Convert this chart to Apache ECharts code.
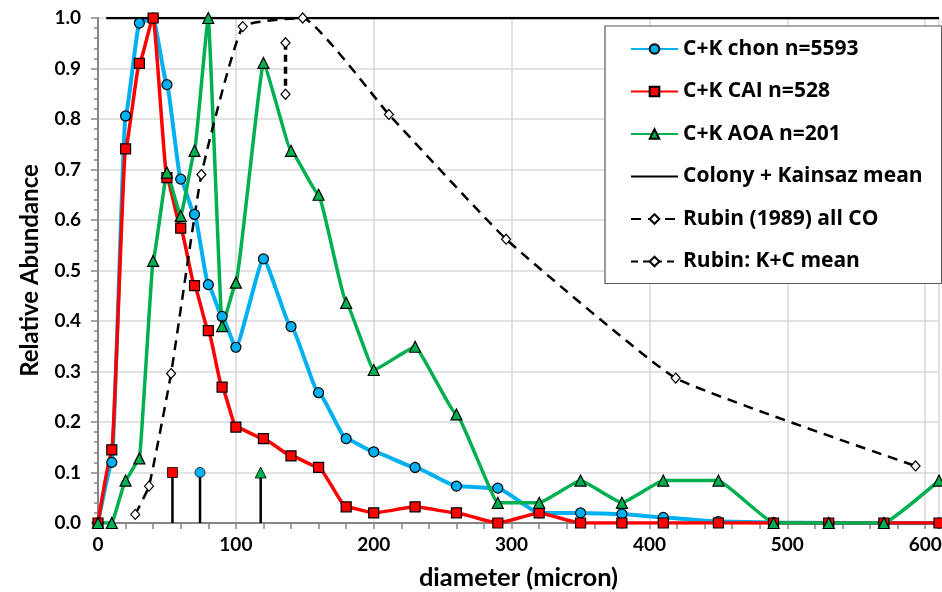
<!DOCTYPE html>
<html>
<head>
<meta charset="utf-8">
<script src="https://cdn.jsdelivr.net/npm/echarts@6/dist/echarts.min.js"></script>
<style>html,body{margin:0;padding:0;background:#fff;}#c{width:942px;height:592px;}</style>
</head>
<body>
<div id="c"></div>
<script>
// ---- data ----
var diam = [0,10,20,30,40,50,60,70,80,90,100,120,140,160,180,200,230,260,290,320,350,380,410,450,490,530,570,610];
var chon = [0,0.12,0.806,0.99,1.0,0.868,0.681,0.611,0.472,0.409,0.348,0.523,0.389,0.258,0.167,0.141,0.110,0.073,0.069,0.020,0.020,0.018,0.011,0.003,0.001,0,0,0];
var cai  = [0,0.145,0.741,0.910,1.0,0.684,0.584,0.470,0.381,0.269,0.190,0.167,0.133,0.110,0.032,0.020,0.032,0.020,0,0.020,0,0,0,0,0,0,0,0];
var aoa  = [0,0,0.084,0.128,0.519,0.694,0.608,0.737,1.0,0.390,0.476,0.911,0.737,0.650,0.436,0.303,0.349,0.215,0.040,0.040,0.084,0.040,0.084,0.084,0,0,0,0.084];
var rubinX = [27,37,53,75,105,148.5,211,296,419,593];
var rubinY = [0.017,0.073,0.296,0.690,0.983,1.0,0.809,0.562,0.287,0.113];
var rubinMeanX = [136,136];
var rubinMeanY = [0.951,0.849];
var meanX = [54,74,118];          // CAI, chon, AOA means (Colony + Kainsaz)
var meanTop = [0.1,0.1,0.1];
var topLineX = [6,610];
var topLineY = [1.0,1.0];
var names = ['C+K chon n=5593','C+K CAI n=528','C+K AOA n=201','Colony + Kainsaz mean','Rubin (1989) all CO','Rubin: K+C mean'];

function pairs(xs, ys){ return xs.map(function(x,i){ return [x, ys[i]]; }); }

var colonyData = [];
meanX.forEach(function(x,i){ colonyData.push([x,0]); colonyData.push([x,meanTop[i]]); colonyData.push([x,'-']); });
topLineX.forEach(function(x,i){ colonyData.push([x, topLineY[i]]); });

var FONT = 'Lato';
var LFONT = 'Open Sans';
var chart = echarts.init(document.getElementById('c'), null, {renderer:'canvas'});
chart.setOption({
  animation:false,
  backgroundColor:'#ffffff',
  grid:{left:98,right:3,top:18,bottom:69, outerBoundsMode:'none', containLabel:false},
  legend:{
    orient:'vertical', left:605, top:26,
    data:names,
    itemWidth:47, itemHeight:12, itemGap:16.5,
    padding:[10,19,9,25],
    backgroundColor:'#ffffff', borderColor:'#595959', borderWidth:1.2,
    textStyle:{fontFamily:LFONT, fontWeight:'bold', fontSize:21, color:'#000', lineHeight:26}
  },
  xAxis:{
    type:'value', min:0, max:610, interval:100,
    name:'diameter (micron)', nameLocation:'middle', nameGap:42,
    nameTextStyle:{fontFamily:FONT, fontWeight:'bold', fontSize:25.5, color:'#000'},
    axisLine:{show:true, lineStyle:{color:'#868686', width:2}},
    axisTick:{show:true, length:6, lineStyle:{color:'#868686', width:1.5}},
    minorTick:{show:true, splitNumber:5, length:6, lineStyle:{color:'#868686', width:1.5}},
    axisLabel:{fontFamily:FONT, fontWeight:'bold', fontSize:19, color:'#000', margin:12, showMaxLabel:false},
    splitLine:{show:true, lineStyle:{color:'#d9d9d9', width:1.5}}
  },
  yAxis:{
    type:'value', min:0, max:1, interval:0.1,
    name:'Relative Abundance', nameLocation:'middle', nameGap:56,
    nameTextStyle:{fontFamily:FONT, fontWeight:'bold', fontSize:24, color:'#000'},
    axisLine:{show:true, lineStyle:{color:'#868686', width:2}},
    axisTick:{show:true, length:7, lineStyle:{color:'#868686', width:1.5}},
    minorTick:{show:true, splitNumber:5, length:4, lineStyle:{color:'#868686', width:1.5}},
    axisLabel:{fontFamily:FONT, fontWeight:'bold', fontSize:19, color:'#000', margin:17,
      formatter:function(v){ return v.toFixed(1); }},
    splitLine:{show:true, lineStyle:{color:'#d9d9d9', width:1.5}}
  },
  series:[
    {name:names[0], type:'line', data:pairs(diam, chon), smooth:0.15, smoothMonotone:'x',
     symbol:'circle', symbolSize:10, showAllSymbol:true,
     lineStyle:{color:'#00B0F0', width:4}, itemStyle:{color:'#00B0F0', borderColor:'#000', borderWidth:1.2}},
    {name:names[1], type:'line', data:pairs(diam, cai), smooth:0.15, smoothMonotone:'x',
     symbol:'rect', symbolSize:10, showAllSymbol:true,
     lineStyle:{color:'#FF0000', width:3.5}, itemStyle:{color:'#FF0000', borderColor:'#000', borderWidth:1.2}},
    {name:names[2], type:'line', data:pairs(diam, aoa), smooth:0.1, smoothMonotone:'x',
     symbol:'triangle', symbolSize:11, showAllSymbol:true,
     lineStyle:{color:'#00B050', width:3.5}, itemStyle:{color:'#00B050', borderColor:'#000', borderWidth:1.2}},
    {name:names[3], type:'line', data:colonyData, symbol:'none', connectNulls:false,
     lineStyle:{color:'#000', width:2.5}, itemStyle:{color:'rgba(0,0,0,0)', borderWidth:0}},
    {name:names[4], type:'line', data:pairs(rubinX, rubinY), smooth:0.12,
     symbol:'diamond', symbolSize:[9,10], showAllSymbol:true,
     lineStyle:{color:'#000', width:2.5, type:[10,7]}, itemStyle:{color:'#fff', borderColor:'#000', borderWidth:1.2}},
    {name:names[5], type:'line', data:pairs(rubinMeanX, rubinMeanY),
     symbol:'diamond', symbolSize:[9,10],
     lineStyle:{color:'#000', width:3.5, type:[7,5]}, itemStyle:{color:'#fff', borderColor:'#000', borderWidth:1.2}},
    // mean markers on top of the Colony + Kainsaz mean lines
    {name:'meanCAI', type:'scatter', data:[[meanX[0], meanTop[0]]], symbol:'rect', symbolSize:10,
     itemStyle:{color:'#FF0000', borderColor:'#000', borderWidth:0.8, opacity:1}, z:3},
    {name:'meanChon', type:'scatter', data:[[meanX[1], meanTop[1]]], symbol:'circle', symbolSize:10,
     itemStyle:{color:'#00B0F0', borderColor:'#000', borderWidth:0.8, opacity:1}, z:3},
    {name:'meanAOA', type:'scatter', data:[[meanX[2], meanTop[2]]], symbol:'triangle', symbolSize:11,
     itemStyle:{color:'#00B050', borderColor:'#000', borderWidth:0.8, opacity:1}, z:3}
  ]
});
</script>
</body>
</html>
